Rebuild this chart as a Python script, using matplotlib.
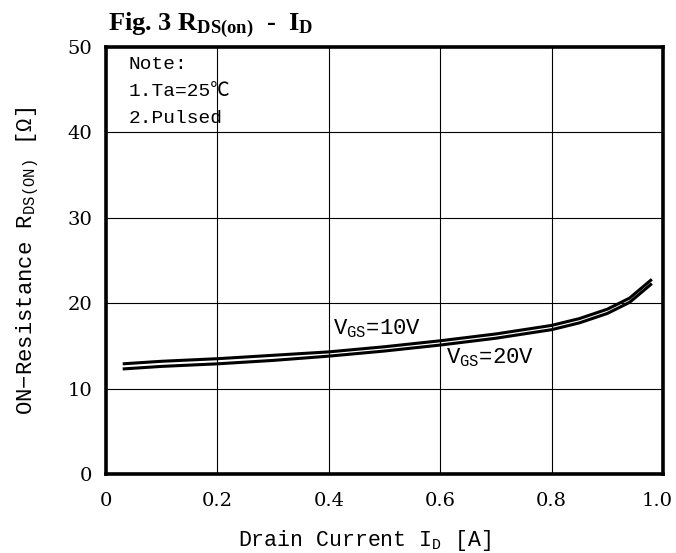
import matplotlib
matplotlib.use("Agg")
import matplotlib.pyplot as plt
from matplotlib.transforms import ScaledTranslation

# Drain current [A] and on-resistance [ohm]
drain_current = [0.03, 0.1, 0.2, 0.3, 0.4, 0.5, 0.6, 0.7, 0.8, 0.85, 0.9, 0.94, 0.98]
rds_vgs10 = [12.9, 13.2, 13.5, 13.9, 14.3, 14.9, 15.6, 16.4, 17.4, 18.2, 19.3, 20.6, 22.8]
rds_vgs20 = [12.3, 12.6, 12.9, 13.3, 13.8, 14.4, 15.1, 15.9, 16.9, 17.7, 18.8, 20.1, 22.3]
x_ticks = [0, 0.2, 0.4, 0.6, 0.8, 1.0]
x_ticklabels = ["0", "0.2", "0.4", "0.6", "0.8", "1.0"]
y_ticks = [0, 10, 20, 30, 40, 50]

MONO = ["Liberation Mono", "DejaVu Sans Mono"]
plt.rcParams["font.family"] = ["DejaVu Serif", "Noto Sans CJK JP"]
plt.rcParams["mathtext.fontset"] = "custom"
plt.rcParams["mathtext.rm"] = "Liberation Mono"
plt.rcParams["mathtext.bf"] = "Liberation Serif:bold"

fig = plt.figure(figsize=(6.76, 5.53), dpi=100)
ax = fig.add_axes([0.1568, 0.1429, 0.824, 0.772])

ax.plot(drain_current, rds_vgs10, color="black", lw=2.2, solid_capstyle="butt")
ax.plot(drain_current, rds_vgs20, color="black", lw=2.2, solid_capstyle="butt")

ax.set_xlim(0, 1.0)
ax.set_ylim(0, 50)
ax.set_xticks(x_ticks)
ax.set_xticklabels(x_ticklabels)
ax.set_yticks(y_ticks)
ax.tick_params(length=0, labelsize=14)
ax.tick_params(axis="x", pad=13)
ax.tick_params(axis="y", pad=10)
# last x label sits a little left of the frame edge, as in the reference
last = ax.get_xticklabels()[-1]
last.set_transform(last.get_transform()
                   + ScaledTranslation(-6 / 100, 0, fig.dpi_scale_trans))
ax.grid(True, color="black", lw=0.8)
for sp in ax.spines.values():
    sp.set_linewidth(2.6)

ax.set_xlabel("Drain Current I$_{\\rm D}$ [A]", fontsize=15.5, family=MONO)
ax.xaxis.set_label_coords(0.463, -0.127)
ax.set_ylabel("ON−Resistance R$_{\\rm DS(ON)}$ [Ω]", fontsize=16, family=MONO)
ax.yaxis.set_label_coords(-0.116, 0.5)

ax.text(0.408, 17.0, "V$_{\\rm GS}$=10V", fontsize=16, va="center", ha="left",
        family=MONO)
ax.text(0.61, 13.6, "V$_{\\rm GS}$=20V", fontsize=16, va="center", ha="left",
        family=MONO)

ax.text(0.04, 48.9, "Note:\n1.Ta=25℃\n2.Pulsed", fontsize=14, va="top", ha="left",
        linespacing=1.75, family=MONO + ["Noto Sans CJK JP"])

fig.text(0.16, 1 - 30 / 553, r"Fig. 3 $\mathbf{R_{DS(on)}}$  -  $\mathbf{I_D}$",
         fontsize=19, fontweight="bold", family="Liberation Serif", va="baseline")

fig.savefig("out.png", dpi=100)
